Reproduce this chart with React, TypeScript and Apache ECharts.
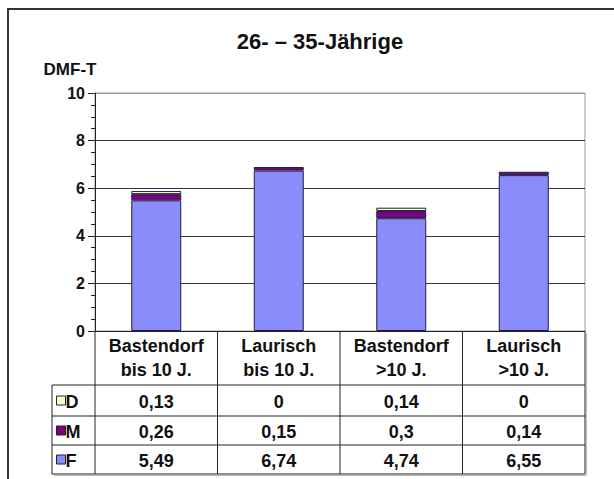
import React, { useEffect, useRef } from "react";
import * as echarts from "echarts";

const title = "26- – 35-Jährige";
const yAxisName = "DMF-T";
const categories = ["Bastendorf\nbis 10 J.", "Laurisch\nbis 10 J.", "Bastendorf\n>10 J.", "Laurisch\n>10 J."];
const valuesF = [5.49, 6.74, 4.74, 6.55];
const valuesM = [0.26, 0.15, 0.3, 0.14];
const valuesD = [0.13, 0, 0.14, 0];
const seriesNames = ["F", "M", "D"];
const seriesColors = ["#8a8cfc", "#800080", "#ffffcc"];
const tableRows = ["D", "M", "F"];
const yTicks = [0, 2, 4, 6, 8, 10];

const FONT = "'Liberation Sans', Arial, sans-serif";

export default function App() {
  const ref = useRef<HTMLDivElement>(null);
  useEffect(() => {
    document.body.style.margin = "0";
    const el = ref.current!;
    const chart = echarts.init(el, null, { renderer: "svg" });
    const gridLeft = 95;
    const gridRight = 585;
    const gridTop = 93;
    const gridBottom = 331;
    const seriesData: Record<string, number[]> = { F: valuesF, M: valuesM, D: valuesD };

    chart.setOption({
      animation: false,
      backgroundColor: "#ffffff",
      textStyle: { fontFamily: FONT },
      grid: {
        left: gridLeft,
        right: 614 - gridRight,
        top: gridTop,
        bottom: 479 - gridBottom,
        show: true,
        borderColor: "#9a9a9a",
        borderWidth: 1,
        backgroundColor: "transparent",
      },
      xAxis: {
        type: "category",
        data: categories,
        axisLine: { show: true, lineStyle: { color: "#222", width: 1 } },
        axisTick: { show: false },
        axisLabel: {
          interval: 0,
          margin: 3,
          fontSize: 18,
          fontWeight: "bold",
          color: "#111",
          lineHeight: 24,
          fontFamily: FONT,
        },
      },
      yAxis: {
        type: "value",
        min: yTicks[0],
        max: yTicks[yTicks.length - 1],
        interval: 2,
        axisLine: { show: true, lineStyle: { color: "#222", width: 1 } },
        axisTick: { show: true, inside: false, length: 7, lineStyle: { color: "#222" } },
        minorTick: { show: true, splitNumber: 4, length: 4, lineStyle: { color: "#222" } },
        splitLine: {
          show: true,
          lineStyle: { color: ["#333", "#333", "#333", "#333", "#333", "#9a9a9a"], width: 1 },
        },
        axisLabel: { margin: 10, fontSize: 16, fontWeight: "bold", color: "#111", fontFamily: FONT },
      },
      series: seriesNames.map((name, i) => ({
        name,
        type: "bar",
        stack: "total",
        barWidth: 50,
        data: seriesData[name].map((v) => (v === 0 ? null : v)),
        itemStyle: { color: seriesColors[i], borderColor: "#1e1e46", borderWidth: 1 },
      })),
    });

    const centers = categories.map((_, i) => chart.convertToPixel({ xAxisIndex: 0 }, i) as number);
    const colW = (gridRight - gridLeft) / categories.length;
    const bounds = [gridLeft, ...centers.map((c) => c + colW / 2)];
    const headerBottom = 385;
    const rowLines = [385, 416, 445, 474];
    const legendLeft = 52;
    const lineStyle = { stroke: "#222", lineWidth: 1 };
    const g: any[] = [];

    g.push({
      type: "rect",
      shape: { x: 8, y: 9, width: 700, height: 600 },
      style: { fill: "none", stroke: "#333", lineWidth: 2 },
      silent: true,
    });
    g.push({
      type: "text",
      x: 320,
      y: 41,
      style: { text: title, font: `bold 22px ${FONT}`, fill: "#111", textAlign: "center", textVerticalAlign: "middle" },
    });
    g.push({
      type: "text",
      x: 70,
      y: 69,
      style: { text: yAxisName, font: `bold 17px ${FONT}`, fill: "#111", textAlign: "center", textVerticalAlign: "middle" },
    });

    bounds.forEach((x) => {
      g.push({ type: "line", shape: { x1: x, y1: gridBottom, x2: x, y2: rowLines[rowLines.length - 1] }, style: lineStyle });
    });
    g.push({ type: "line", shape: { x1: legendLeft, y1: headerBottom, x2: legendLeft, y2: rowLines[rowLines.length - 1] }, style: lineStyle });
    rowLines.forEach((y) => {
      g.push({ type: "line", shape: { x1: legendLeft, y1: y, x2: gridRight, y2: y }, style: lineStyle });
    });
    g.push({ type: "line", shape: { x1: gridRight + 1.5, y1: gridBottom + 2, x2: gridRight + 1.5, y2: 475.5 }, style: { stroke: "#bbb", lineWidth: 1 } });
    g.push({ type: "line", shape: { x1: legendLeft + 2, y1: 475.5, x2: gridRight + 1.5, y2: 475.5 }, style: { stroke: "#bbb", lineWidth: 1 } });

    tableRows.forEach((name, r) => {
      const yc = (rowLines[r] + rowLines[r + 1]) / 2;
      const ci = seriesNames.indexOf(name);
      g.push({
        type: "rect",
        shape: { x: 56.5, y: yc - 4.5, width: 9, height: 9 },
        style: { fill: seriesColors[ci], stroke: "#222", lineWidth: 1 },
      });
      g.push({
        type: "text",
        x: 65.5,
        y: yc + 1,
        style: { text: name, font: `bold 18px ${FONT}`, fill: "#111", textAlign: "left", textVerticalAlign: "middle" },
      });
      seriesData[name].forEach((v, i) => {
        g.push({
          type: "text",
          x: centers[i],
          y: yc + 1,
          style: {
            text: String(v).replace(".", ","),
            font: `bold 18px ${FONT}`,
            fill: "#111",
            textAlign: "center",
            textVerticalAlign: "middle",
          },
        });
      });
    });

    chart.setOption({ graphic: g });
    return () => chart.dispose();
  }, []);
  return <div ref={ref} style={{ width: 614, height: 479 }} />;
}
